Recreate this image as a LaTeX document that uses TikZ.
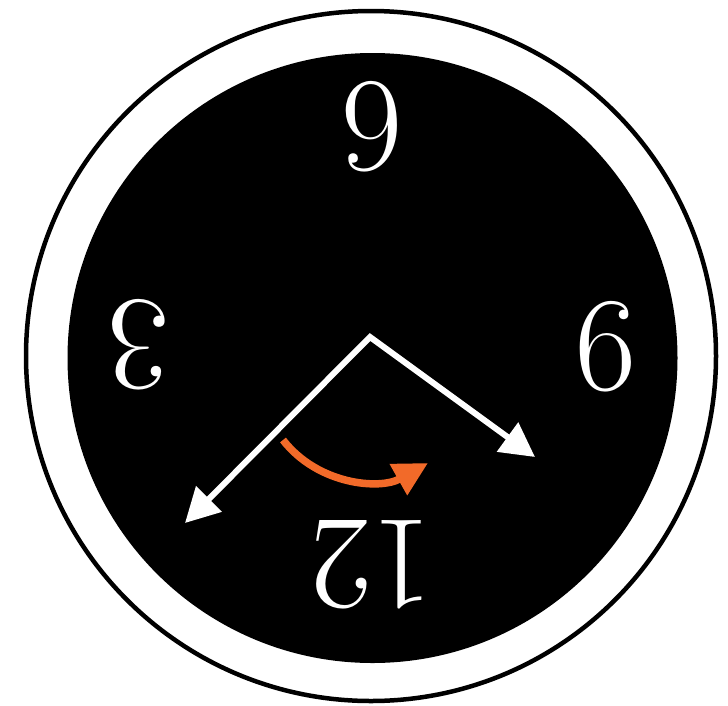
\documentclass[tikz,border=0pt]{standalone}
\usepackage{fontspec}
\usetikzlibrary{arrows.meta}
\definecolor{clockorange}{RGB}{242,106,41}
\tikzset{
  numeral/.style={text=white, inner sep=0pt, rotate=180, font=\fontsize{134}{134}\selectfont},
  hand/.style={draw=white, line width=6pt, line join=miter,
    {Triangle[length=34pt,width=35pt]}-{Triangle[length=34pt,width=35pt]}},
  turn/.style={draw=clockorange, line width=7.5pt,
    -{Triangle[length=34pt,width=34pt]}}
}
\begin{document}
\begin{tikzpicture}[x=1pt,y=-1pt]
  \useasboundingbox (0,0) rectangle (728,705);
  \draw[line width=4.5pt] (371,356) circle[radius=345];
  \fill[black] (372.5,358) circle[radius=305];
  \node[numeral] (n6) at (372,127) {6};
  \node[numeral] (n3) at (139,345) {3};
  \node[numeral] (n9) at (606,347) {9};
  \node[numeral] (n12) at (372,565) {12};
  \coordinate (apex) at (370,337);
  \coordinate (minute) at (185,523);
  \coordinate (hour) at (535,457);
  \path[hand] (minute) -- (apex) -- (hour);
  \coordinate (s) at (283,440);
  \coordinate (e) at (428,463);
  \path[turn] (s) .. controls (318,485) and (380,490) .. (e);
\end{tikzpicture}
\end{document}
